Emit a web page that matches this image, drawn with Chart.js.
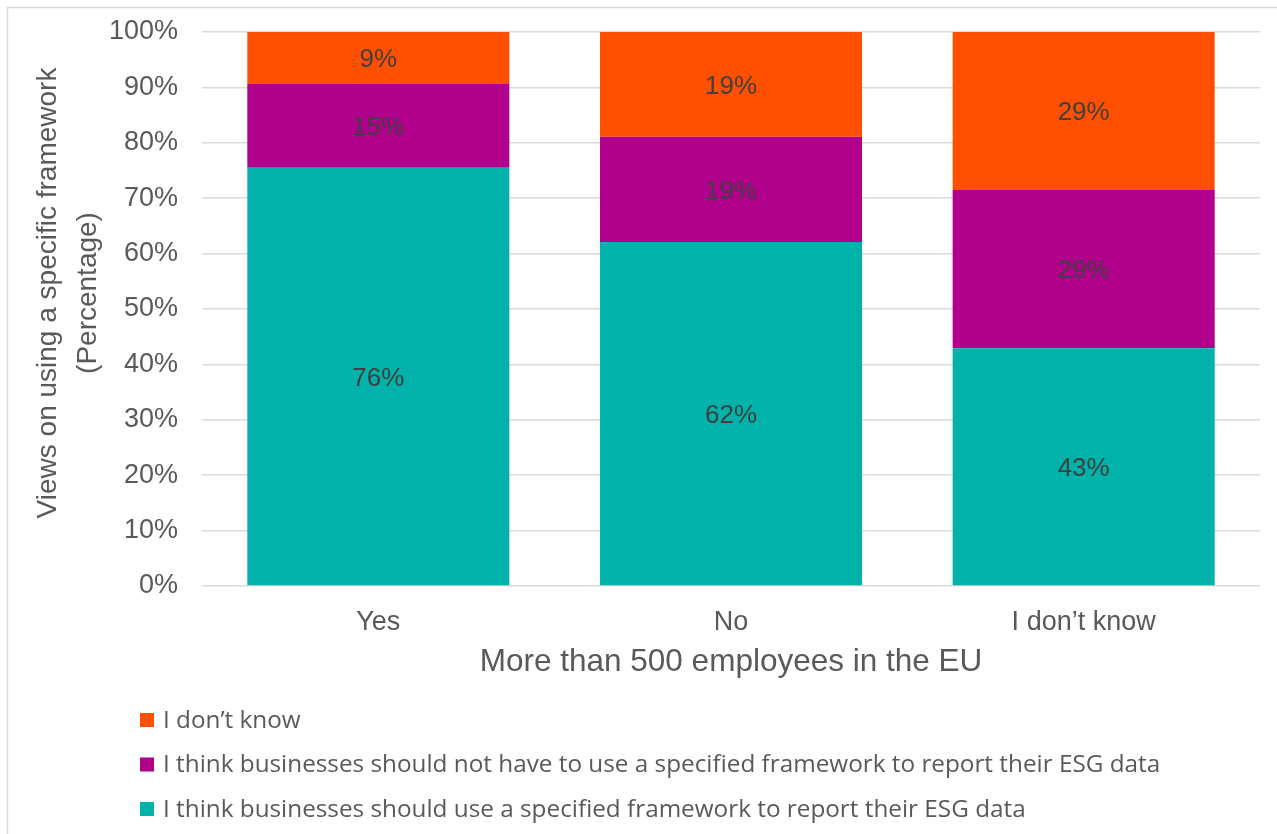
<!DOCTYPE html>
<html>
<head>
<meta charset="utf-8">
<script src="https://cdn.jsdelivr.net/npm/chart.js@4/dist/chart.umd.min.js"></script>
<style>
  html, body { margin: 0; padding: 0; background: #fff; }
  #wrap { width: 1277px; height: 834px; position: relative; }
</style>
</head>
<body>
<div id="wrap"><canvas id="chartESG"></canvas></div>
<script>
// ====== DADOS ======
const categories = ['Yes', 'No', 'I don\u2019t know'];
const shouldUse = [75.5, 62.1, 42.9];
const shouldNotUse = [15.1, 19.0, 28.6];
const dontKnow = [9.4, 18.9, 28.5];
const yTicks = [0, 10, 20, 30, 40, 50, 60, 70, 80, 90, 100];
const yTitle = ['Views on using a specific framework', '(Percentage)'];

const seriesNames = [
    'I think businesses should use a specified framework to report their ESG data',
    'I think businesses should not have to use a specified framework to report their ESG data',
    'I don\u2019t know'
];
const seriesColors = ['#00B2A9', '#B0008C', '#FF4F00'];

const arial = '"Liberation Sans", Arial, sans-serif';

// ====== PLUGINS ======
// moldura cinza em volta do gráfico
const framePlugin = {
    id: 'frame',
    beforeDraw(chart) {
        const ctx = chart.ctx;
        ctx.save();
        ctx.fillStyle = '#fff';
        ctx.fillRect(0, 0, chart.width, chart.height);
        ctx.strokeStyle = '#d9d9d9';
        ctx.lineWidth = 1.5;
        ctx.strokeRect(7.5, 7.5, chart.width + 20, chart.height + 20);
        ctx.restore();
    }
};

// título do eixo Y em duas linhas, um pouco acima do meio do eixo
const yTitlePlugin = {
    id: 'yTitle',
    afterDraw(chart) {
        const ctx = chart.ctx;
        const area = chart.chartArea;
        const cy = (area.top + area.bottom) / 2 - 16;
        ctx.save();
        ctx.font = '28px ' + arial;
        ctx.fillStyle = '#595959';
        ctx.textAlign = 'center';
        ctx.textBaseline = 'middle';
        yTitle.forEach((line, k) => {
            ctx.save();
            ctx.translate(48 + k * 40, cy);
            ctx.rotate(-Math.PI / 2);
            ctx.fillText(line, 0, 0);
            ctx.restore();
        });
        ctx.restore();
    }
};

// rótulos de porcentagem no meio de cada barra
const valueLabels = {
    id: 'valueLabels',
    afterDatasetsDraw(chart) {
        const ctx = chart.ctx;
        ctx.save();
        ctx.font = '26px ' + arial;
        ctx.fillStyle = '#404040';
        ctx.textAlign = 'center';
        ctx.textBaseline = 'middle';
        chart.data.datasets.forEach((ds, i) => {
            chart.getDatasetMeta(i).data.forEach((bar, j) => {
                const p = bar.getProps(['x', 'y', 'base'], true);
                ctx.fillText(Math.round(ds.data[j]) + '%', p.x, (p.y + p.base) / 2 + 2);
            });
        });
        ctx.restore();
    }
};

// legenda vertical, ordem invertida (como no Excel)
const stackedLegend = {
    id: 'stackedLegend',
    afterDraw(chart) {
        const ctx = chart.ctx;
        ctx.save();
        ctx.font = '24.3px "Open Sans", "Noto Sans", sans-serif';
        ctx.textBaseline = 'middle';
        const rows = chart.data.datasets.slice().reverse();
        rows.forEach((ds, k) => {
            const y = 720 + k * 44.5;
            ctx.fillStyle = ds.backgroundColor;
            ctx.fillRect(140, y - 7, 14, 14);
            ctx.fillStyle = '#595959';
            ctx.fillText(ds.label, 163, y + 1);
        });
        ctx.restore();
    }
};

// ====== GRÁFICO ======
const ctxESG = document.getElementById('chartESG').getContext('2d');
new Chart(ctxESG, {
    type: 'bar',
    data: {
        labels: categories,
        datasets: [
            { label: seriesNames[0], data: shouldUse, backgroundColor: seriesColors[0] },
            { label: seriesNames[1], data: shouldNotUse, backgroundColor: seriesColors[1] },
            { label: seriesNames[2], data: dontKnow, backgroundColor: seriesColors[2] }
        ]
    },
    options: {
        responsive: true,
        maintainAspectRatio: false,
        animation: false,
        layout: { padding: { left: 8, right: 17, top: 32, bottom: 144 } },
        datasets: { bar: { categoryPercentage: 0.743, barPercentage: 1, borderWidth: 0 } },
        plugins: {
            legend: { display: false },
            tooltip: { enabled: false }
        },
        scales: {
            x: {
                stacked: true,
                grid: { display: false },
                border: { display: false },
                ticks: {
                    color: '#595959',
                    padding: 12,
                    font: { family: arial, size: 27 }
                },
                title: {
                    display: true,
                    text: 'More than 500 employees in the EU',
                    color: '#595959',
                    padding: { top: 0, bottom: 9 },
                    font: { family: arial, size: 31.5 }
                },
                afterFit: (scale) => {
                    scale.height = 104;
                    scale.paddingLeft = 0;
                    scale.paddingRight = 0;
                }
            },
            y: {
                stacked: true,
                min: 0,
                max: 100,
                afterBuildTicks: (scale) => { scale.ticks = yTicks.map(v => ({ value: v })); },
                grid: { color: '#d9d9d9', lineWidth: 1.5, drawTicks: false },
                border: { display: false },
                ticks: {
                    color: '#595959',
                    padding: 24,
                    font: { family: arial, size: 27 },
                    callback: (v) => v + '%'
                },
                afterFit: (scale) => {
                    scale.width = 194;
                    scale.paddingTop = 0;
                    scale.paddingBottom = 0;
                }
            }
        }
    },
    plugins: [framePlugin, valueLabels, yTitlePlugin, stackedLegend]
});
</script>
</body>
</html>
